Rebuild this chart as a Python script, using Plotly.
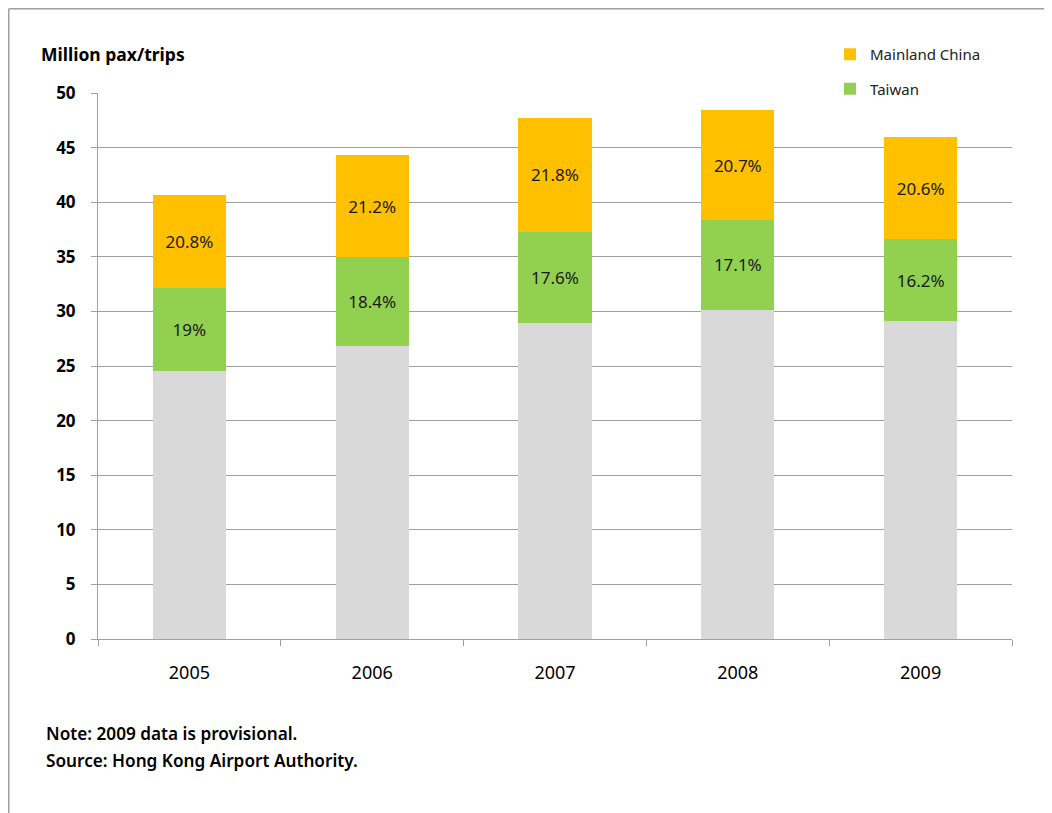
import plotly.graph_objects as go

years = ["2005", "2006", "2007", "2008", "2009"]
other = [24.5, 26.8, 28.9, 30.1, 29.1]
taiwan = [7.6, 8.2, 8.4, 8.3, 7.5]
mainland = [8.6, 9.3, 10.4, 10.0, 9.4]
taiwan_pct = ["19%", "18.4%", "17.6%", "17.1%", "16.2%"]
mainland_pct = ["20.8%", "21.2%", "21.8%", "20.7%", "20.6%"]

FONT = "Noto Sans"
label_font = dict(family=FONT, size=17, color="#1a1a1a")

# page px -> paper coords (plot area spans page x 98..1012, y 93..639)
def px(p):
    return (p - 98) / 914

def py(p):
    return (639 - p) / 546

fig = go.Figure()
fig.add_trace(go.Bar(x=years, y=other, name="Other", marker_color="#D9D9D9",
                     marker_line_width=0, showlegend=False, hoverinfo="skip"))
fig.add_trace(go.Bar(x=years, y=taiwan, name="Taiwan", marker_color="#92D050",
                     marker_line_width=0, text=taiwan_pct, textposition="inside",
                     insidetextanchor="middle", textfont=label_font,
                     legendgroup="tw", legendrank=2))
fig.add_trace(go.Bar(x=years, y=mainland, name="Mainland China", marker_color="#FFC000",
                     marker_line_width=0, text=mainland_pct, textposition="inside",
                     insidetextanchor="middle", textfont=label_font,
                     legendgroup="mc", legendrank=1))

fig.update_layout(
    width=1052, height=813,
    margin=dict(l=90, r=48, t=85, b=182),
    paper_bgcolor="white", plot_bgcolor="white",
    barmode="stack", bargap=0.6,
    font=dict(family=FONT, color="black"),
    showlegend=True,
    legend=dict(x=px(830), y=py(38), xanchor="left", yanchor="top",
                bgcolor="white", font=dict(family=FONT, size=15, color="#222"),
                tracegroupgap=12, itemwidth=30),
    xaxis=dict(showgrid=False, showline=True, linecolor="#a0a0a0", linewidth=1,
               ticks="outside", tickson="boundaries", ticklen=6, tickcolor="#a0a0a0",
               tickfont=dict(family=FONT, size=18, color="black"),
               ticklabelstandoff=17),
    yaxis=dict(range=[0, 50], dtick=5, showgrid=True, gridcolor="#a0a0a0", gridwidth=1,
               showline=True, linecolor="#a0a0a0", linewidth=1,
               ticks="outside", ticklen=6, tickcolor="#a0a0a0",
               tickfont=dict(family=FONT, size=17, color="black", weight="bold"),
               ticklabelstandoff=12, zeroline=False),
)

# Outer border (left and top)
fig.add_shape(type="line", xref="paper", yref="paper",
              x0=px(8.75), x1=px(8.75), y0=py(8.75), y1=py(830),
              line=dict(color="#a0a0a0", width=1.5))
fig.add_shape(type="line", xref="paper", yref="paper",
              x0=px(8.75), x1=px(1070), y0=py(8.75), y1=py(8.75),
              line=dict(color="#a0a0a0", width=1.5))

fig.add_annotation(text="<b>Million pax/trips</b>", xref="paper", yref="paper",
                   x=px(39), y=py(54), xanchor="left", yanchor="middle",
                   showarrow=False, font=dict(family=FONT, size=17.5, color="black"))
fig.add_annotation(text="Note: 2009 data is provisional.",
                   xref="paper", yref="paper", align="left",
                   x=px(44), y=py(733), xanchor="left", yanchor="middle",
                   showarrow=False, font=dict(family=FONT, size=17.2, color="black", weight=600))
fig.add_annotation(text="Source: Hong Kong Airport Authority.",
                   xref="paper", yref="paper", align="left",
                   x=px(44), y=py(760), xanchor="left", yanchor="middle",
                   showarrow=False, font=dict(family=FONT, size=17.2, color="black", weight=600))

fig.write_html("out.html")
